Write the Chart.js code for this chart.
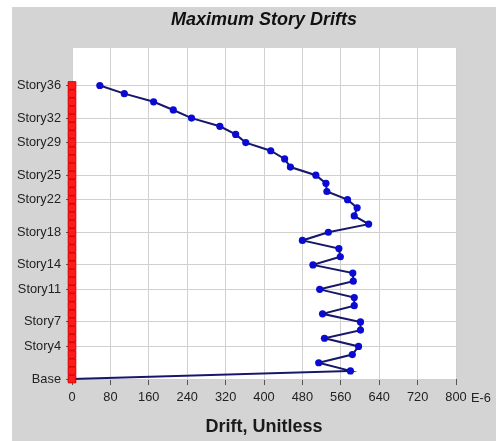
<!DOCTYPE html>
<html>
<head>
<meta charset="utf-8">
<script src="https://cdn.jsdelivr.net/npm/chart.js@4/dist/chart.umd.min.js"></script>
<style>
  body { margin: 0; background: #fff; }
  #wrap { position: absolute; left: 12px; top: 7px; }
  canvas { background: #d4d4d4; }
</style>
</head>
<body>
<div id="wrap"><canvas id="driftChart" width="484" height="434"></canvas></div>
<script>
// story names, Base at level 0
const stories = ['Base', 'Story1', 'Story2', 'Story3', 'Story4', 'Story5', 'Story6', 'Story7',
  'Story8', 'Story9', 'Story10', 'Story11', 'Story12', 'Story13', 'Story14', 'Story15',
  'Story16', 'Story17', 'Story18', 'Story19', 'Story20', 'Story21', 'Story22', 'Story23',
  'Story24', 'Story25', 'Story26', 'Story27', 'Story28', 'Story29', 'Story30', 'Story31',
  'Story32', 'Story33', 'Story34', 'Story35', 'Story36'];

// max drift per story, in E-6
const maxDrift = [0, 580, 514, 584, 597, 526, 601, 601, 522, 588, 588, 516, 586, 585, 502, 559,
  556, 480, 534, 618, 588, 594, 574, 531, 529, 508, 455, 443, 414, 362, 341, 308,
  249, 211, 170, 109, 58];

// red markers along the axis
const supportDrift = [0, 0, 0, 0, 0, 0, 0, 0, 0, 0, 0, 0, 0, 0, 0, 0, 0, 0, 0,
  0, 0, 0, 0, 0, 0, 0, 0, 0, 0, 0, 0, 0, 0, 0, 0, 0, 0];

const labelledStories = [0, 4, 7, 11, 14, 18, 22, 25, 29, 32, 36];
const driftTicks = [0, 80, 160, 240, 320, 400, 480, 560, 640, 720, 800];

Chart.defaults.font.family = "'Liberation Sans', Arial, sans-serif";
Chart.defaults.color = '#222';

const plotBackground = {
  id: 'plotBackground',
  beforeDraw(chart) {
    const { ctx, chartArea } = chart;
    ctx.save();
    ctx.fillStyle = '#ffffff';
    ctx.fillRect(chartArea.left, chartArea.top, chartArea.right - chartArea.left, chartArea.bottom - chartArea.top);
    ctx.restore();
  }
};

const unitLabel = {
  id: 'unitLabel',
  afterDraw(chart) {
    const { ctx, chartArea } = chart;
    ctx.save();
    ctx.font = "12.8px 'Liberation Sans', Arial, sans-serif";
    ctx.fillStyle = '#222';
    ctx.textBaseline = 'middle';
    ctx.textAlign = 'left';
    ctx.fillText('E-6', chartArea.right + 15, chartArea.bottom + 19);
    ctx.restore();
  }
};

new Chart(document.getElementById('driftChart'), {
  type: 'scatter',
  data: {
    datasets: [
      {
        label: 'Support',
        data: supportDrift.map((d, i) => ({ x: d, y: i })),
        showLine: false,
        pointStyle: 'rect',
        pointRadius: 5.4,
        pointBackgroundColor: '#ff1a1a',
        pointBorderColor: '#d80000',
        pointBorderWidth: 1,
        clip: false,
      },
      {
        label: 'Max Drift',
        data: maxDrift.map((d, i) => ({ x: d, y: i })),
        showLine: true,
        borderColor: '#16166a',
        borderWidth: 2,
        pointRadius: 3.6,
        pointBackgroundColor: '#0a0ad2',
        pointBorderColor: '#0a0ad2',
        pointBorderWidth: 0,
        clip: false,
      },
    ]
  },
  options: {
    responsive: false,
    animation: false,
    events: [],
    layout: {
      padding: { left: 0, right: 40, top: 0, bottom: 1 }
    },
    scales: {
      x: {
        type: 'linear',
        min: 0,
        max: 800,
        afterBuildTicks: (scale) => {
          scale.ticks = driftTicks.map(v => ({ value: v }));
        },
        ticks: {
          padding: 5,
          maxRotation: 0,
          font: { size: 12.8 },
          color: '#222',
        },
        grid: {
          color: '#d0d0d0',
          tickColor: '#555',
          tickLength: 6,
        },
        border: { display: false },
        title: {
          display: true,
          text: 'Drift, Unitless',
          font: { size: 18, weight: 'bold' },
          color: '#1a1a1a',
          padding: { top: 6, bottom: 2 },
        },
      },
      y: {
        type: 'linear',
        min: 0,
        max: 40.6,
        afterBuildTicks: (scale) => {
          scale.ticks = labelledStories.map(v => ({ value: v }));
        },
        afterFit: (scale) => {
          scale.width = 60;
        },
        ticks: {
          padding: 5,
          font: { size: 12.8 },
          color: '#222',
          callback: (v) => stories[v],
        },
        grid: {
          color: '#d0d0d0',
          tickColor: '#555',
          tickLength: 6,
        },
        border: { display: false },
      },
    },
    plugins: {
      legend: { display: false },
      tooltip: { enabled: false },
      title: {
        display: true,
        fullSize: false,
        text: 'Maximum Story Drifts',
        color: '#111',
        font: { size: 18, weight: 'bold', style: 'italic' },
        padding: { top: 2, bottom: 17.4 },
      },
    },
  },
  plugins: [plotBackground, unitLabel],
});
</script>
</body>
</html>
